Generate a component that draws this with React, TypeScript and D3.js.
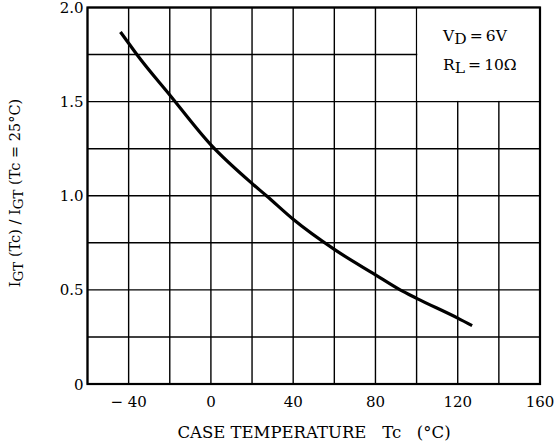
import React, { useRef, useEffect } from 'react';
import * as d3 from 'd3';

// case temperature (°C) vs normalized gate trigger current
const temps = [-44, -40, -36, -20, 0, 20, 27, 40, 60, 80, 92, 100, 120, 127];
const ratio = [1.87, 1.81, 1.75, 1.535, 1.27, 1.065, 1.0, 0.875, 0.715, 0.58, 0.5, 0.455, 0.35, 0.31];

const xTicks = [-40, 0, 40, 80, 120, 160];
const yTicks = [0, 0.5, 1.0, 1.5, 2.0];
const xGrid = d3.range(-60, 161, 20);
const yGrid = d3.range(0, 2.01, 0.25);

const FONT = '"DejaVu Serif", serif';

const App = () => {
  const svgRef = useRef(null);
  const width = 556;
  const height = 445;
  const margin = { top: 7.5, right: 16, bottom: 61, left: 87.5 };

  useEffect(() => {
    const svg = d3.select(svgRef.current);
    svg.selectAll('*').remove();

    const x = d3.scaleLinear()
      .domain([-60, 160])
      .range([margin.left, width - margin.right]);

    const y = d3.scaleLinear()
      .domain([0, 2])
      .range([height - margin.bottom, margin.top]);

    svg.append('rect')
      .attr('width', width)
      .attr('height', height)
      .attr('fill', '#fff');

    // grid
    svg.append('g')
      .selectAll('line')
      .data(xGrid)
      .join('line')
      .attr('x1', d => x(d))
      .attr('x2', d => x(d))
      .attr('y1', y(0))
      .attr('y2', y(2))
      .attr('stroke', '#000')
      .attr('stroke-width', 1.4);

    svg.append('g')
      .selectAll('line')
      .data(yGrid)
      .join('line')
      .attr('x1', x(-60))
      .attr('x2', x(160))
      .attr('y1', d => y(d))
      .attr('y2', d => y(d))
      .attr('stroke', '#000')
      .attr('stroke-width', 1.4);

    // blank area for the conditions note
    svg.append('rect')
      .attr('x', x(100) + 0.7)
      .attr('y', y(2))
      .attr('width', x(160) - x(100) - 0.7)
      .attr('height', y(1.5) - y(2) - 0.7)
      .attr('fill', '#fff');

    // frame
    svg.append('rect')
      .attr('x', x(-60))
      .attr('y', y(2))
      .attr('width', x(160) - x(-60))
      .attr('height', y(0) - y(2))
      .attr('fill', 'none')
      .attr('stroke', '#000')
      .attr('stroke-width', 2.2);

    // curve
    const line = d3.line()
      .x((d, i) => x(temps[i]))
      .y(d => y(d))
      .curve(d3.curveMonotoneX);

    svg.append('path')
      .datum(ratio)
      .attr('fill', 'none')
      .attr('stroke', '#000')
      .attr('stroke-width', 3.2)
      .attr('d', line);

    // tick labels
    svg.append('g')
      .selectAll('text')
      .data(xTicks)
      .join('text')
      .attr('x', d => x(d))
      .attr('y', y(0) + 23)
      .attr('text-anchor', 'middle')
      .attr('font-family', FONT)
      .attr('font-size', 15)
      .style('white-space', 'pre')
      .text(d => d < 0 ? `\u2212 ${Math.abs(d)}` : `${d}`);

    svg.append('g')
      .selectAll('text')
      .data(yTicks)
      .join('text')
      .attr('x', margin.left - 4)
      .attr('y', d => y(d))
      .attr('dy', '0.37em')
      .attr('text-anchor', 'end')
      .attr('font-family', FONT)
      .attr('font-size', 15)
      .text(d => d === 0 ? '0' : d3.format('.1f')(d));

    // x title
    svg.append('text')
      .attr('x', 314)
      .attr('y', 438)
      .attr('text-anchor', 'middle')
      .attr('font-family', FONT)
      .attr('font-size', 16.5)
      .style('white-space', 'pre')
      .text('CASE TEMPERATURE   Tc   (°C)');

    // y title
    const yt = svg.append('text')
      .attr('transform', 'translate(20,193) rotate(-90)')
      .attr('text-anchor', 'middle')
      .attr('font-family', FONT)
      .attr('font-size', 14.5)
      .style('white-space', 'pre');
    yt.append('tspan').text('I');
    yt.append('tspan').attr('dy', 3).attr('font-size', 13.5).text('GT');
    yt.append('tspan').attr('dy', -3).text(' (Tc) / I');
    yt.append('tspan').attr('dy', 3).attr('font-size', 13.5).text('GT');
    yt.append('tspan').attr('dy', -3).text(' (Tc = 25°C)');

    // conditions
    const c1 = svg.append('text')
      .attr('x', 443)
      .attr('y', 41)
      .attr('font-family', FONT)
      .attr('font-size', 15.5)
      .style('white-space', 'pre');
    c1.append('tspan').text('V');
    c1.append('tspan').attr('dy', 3).text('D');
    c1.append('tspan').attr('dy', -3).text('\u2009=\u20096V');

    const c2 = svg.append('text')
      .attr('x', 443)
      .attr('y', 70)
      .attr('font-family', FONT)
      .attr('font-size', 15.5)
      .style('white-space', 'pre');
    c2.append('tspan').text('R');
    c2.append('tspan').attr('dy', 3).text('L');
    c2.append('tspan').attr('dy', -3).text('\u2009=\u200910Ω');
  }, []);

  return (
    <svg
      ref={svgRef}
      width={width}
      height={height}
      style={{ position: 'absolute', left: 0, top: 0 }}
    ></svg>
  );
};

export default App;
